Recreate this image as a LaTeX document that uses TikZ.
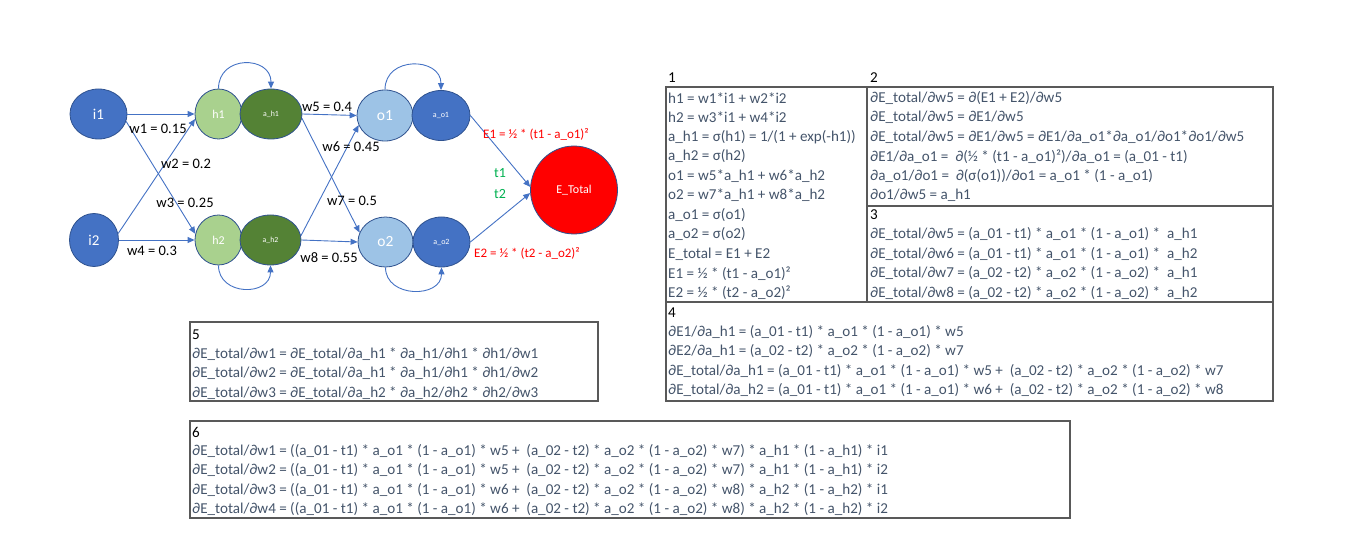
\documentclass[tikz,border=0pt]{standalone}
\usepackage{fontspec}
\setmainfont{Carlito}
\usetikzlibrary{shapes.geometric,arrows.meta}
\definecolor{eblue}{HTML}{4472C4}
\definecolor{nborder}{HTML}{2F528F}
\definecolor{lgreen}{HTML}{A9D18E}
\definecolor{dgreen}{HTML}{548235}
\definecolor{lblue}{HTML}{9DC3E6}
\definecolor{tgray}{HTML}{44546A}
\definecolor{bgray}{HTML}{595959}
\definecolor{tgreen}{HTML}{00B050}
\begin{document}
\begin{tikzpicture}[x=1pt,y=-1pt,
 neuron/.style={ellipse, draw=nborder, line width=0.8pt, inner sep=0pt, text=white},
 edge/.style={draw=eblue, line width=0.9pt, -{Triangle[length=7pt,width=6pt]}},
 wl/.style={font=\fontsize{14.5}{16}\selectfont, inner sep=0pt},
 redl/.style={font=\fontsize{13}{15}\selectfont, inner sep=0pt, text=red},
 grl/.style={font=\fontsize{14}{16}\selectfont, inner sep=0pt, text=tgreen},
 tbl/.style={font=\fontsize{15.1}{17}\selectfont, text=tgray, anchor=west, inner sep=0pt},
 hdr/.style={tbl, text=black},
 frame/.style={draw=bgray, line width=1.1pt}]
\useasboundingbox (0,0) rectangle (1362,553);

% ---------- network ----------
\node[neuron, fill=eblue, minimum width=57pt, minimum height=50pt, font=\fontsize{15}{16}\selectfont] (i1) at (98.5,114) {i1};
\node[neuron, fill=eblue, minimum width=49pt, minimum height=53pt, font=\fontsize{15}{16}\selectfont] (i2) at (94,240) {i2};
\node[neuron, fill=lgreen, minimum width=47pt, minimum height=50pt, font=\fontsize{12}{14}\selectfont] (h1) at (218.5,114) {h1};
\node[neuron, fill=dgreen, minimum width=62pt, minimum height=50pt, font=\fontsize{7.8}{9}\selectfont] (ah1) at (271,114) {a\_h1};
\node[neuron, fill=lgreen, minimum width=47pt, minimum height=50pt, font=\fontsize{12}{14}\selectfont] (h2) at (218.5,240) {h2};
\node[neuron, fill=dgreen, minimum width=61pt, minimum height=50pt, font=\fontsize{7.8}{9}\selectfont] (ah2) at (270.5,240) {a\_h2};
\node[neuron, fill=lblue, minimum width=56pt, minimum height=51pt, font=\fontsize{15.5}{17}\selectfont] (o1) at (385,115.5) {o1};
\node[neuron, fill=eblue, minimum width=58pt, minimum height=50pt, font=\fontsize{8}{9}\selectfont] (ao1) at (441,115.5) {a\_o1};
\node[neuron, fill=lblue, minimum width=55pt, minimum height=50pt, font=\fontsize{15.5}{17}\selectfont] (o2) at (385.5,242) {o2};
\node[neuron, fill=eblue, minimum width=57pt, minimum height=50pt, font=\fontsize{8}{9}\selectfont] (ao2) at (441.5,242) {a\_o2};
\node[neuron, fill=red, minimum width=87pt, minimum height=88pt, font=\fontsize{12}{14}\selectfont] (E) at (574,190) {E\_Total};

\draw[edge] (i1.east) -- (h1.west);
\draw[edge] (i1.-15) -- (h2.165);
\draw[edge] (i2.15) -- (h1.192);
\draw[edge] (i2.east) -- (h2.west);
\draw[edge] (ah1.east) -- (o1.west);
\draw[edge] (ah1.-8) -- (o2.160);
\draw[edge] (ah2.8) -- (o1.200);
\draw[edge] (ah2.east) -- (o2.west);
\draw[edge] (ao1.east) -- (E.176);
\draw[edge] (ao2.east) -- (E.184);

\draw[edge] (h1.north) .. controls +(0,-34) and +(0,-33) .. (ah1.north);
\draw[edge] (h2.south) .. controls +(0,31) and +(0,31) .. (ah2.south);
\draw[edge] (o1.north) .. controls +(0,-34) and +(0,-33) .. (ao1.north);
\draw[edge] (o2.south) .. controls +(0,31) and +(0,31) .. (ao2.south);

\node[wl] (lw1) at (158,129) {w1 = 0.15};
\node[wl] (lw2) at (186,164) {w2 = 0.2};
\node[wl] (lw3) at (185,203) {w3 = 0.25};
\node[wl] (lw4) at (152,251) {w4 = 0.3};
\node[wl] (lw5) at (327,107) {w5 = 0.4};
\node[wl] (lw6) at (351,147) {w6 = 0.45};
\node[wl] (lw7) at (352,201) {w7 = 0.5};
\node[wl] (lw8) at (329,258) {w8 = 0.55};
\node[redl] (le1) at (536,134) {E1 = ½ * (t1 - a\_o1)²};
\node[redl] (le2) at (527,253) {E2 = ½ * (t2 - a\_o2)²};
\node[grl] (lt1) at (500,173) {t1};
\node[grl] (lt2) at (500,194) {t2};

% ---------- tables ----------
\draw[frame] (666,87) rectangle (1273,302);
\draw[frame] (867,87) -- (867,302);
\draw[frame] (867,206) -- (1273,206);
\draw[frame] (666,302) rectangle (1273,401);
\draw[frame] (190,322) rectangle (598,401);
\draw[frame] (190,421) rectangle (1070,518);

\node[hdr] (s1h) at (668,78) {1};
\node[tbl] (s1a) at (668,98) {h1 = w1*i1 + w2*i2};
\node[tbl] (s1b) at (668,117.5) {h2 = w3*i1 + w4*i2};
\node[tbl] (s1c) at (668,137) {a\_h1 = σ(h1) = 1/(1 + exp(-h1))};
\node[tbl] (s1d) at (668,156.5) {a\_h2 = σ(h2)};
\node[tbl] (s1e) at (668,176) {o1 = w5*a\_h1 + w6*a\_h2};
\node[tbl] (s1f) at (668,195.5) {o2 = w7*a\_h1 + w8*a\_h2};
\node[tbl] (s1g) at (668,215) {a\_o1 = σ(o1)};
\node[tbl] (s1h2) at (668,234.5) {a\_o2 = σ(o2)};
\node[tbl] (s1i) at (668,254) {E\_total = E1 + E2};
\node[tbl] (s1j) at (668,273.5) {E1 = ½ * (t1 - a\_o1)²};
\node[tbl] (s1k) at (668,293) {E2 = ½ * (t2 - a\_o2)²};

\node[hdr] (s2h) at (870,78) {2};
\node[tbl] (s2a) at (870,98) {∂E\_total/∂w5 = ∂(E1 + E2)/∂w5};
\node[tbl] (s2b) at (870,117.5) {∂E\_total/∂w5 = ∂E1/∂w5};
\node[tbl] (s2c) at (870,137) {∂E\_total/∂w5 = ∂E1/∂w5 = ∂E1/∂a\_o1*∂a\_o1/∂o1*∂o1/∂w5};
\node[tbl] (s2d) at (870,156.5) {∂E1/∂a\_o1 = \ ∂(½ * (t1 - a\_o1)²)/∂a\_o1 = (a\_01 - t1)};
\node[tbl] (s2e) at (870,176) {∂a\_o1/∂o1 = \ ∂(σ(o1))/∂o1 = a\_o1 * (1 - a\_o1)};
\node[tbl] (s2f) at (870,195.5) {∂o1/∂w5 = a\_h1};

\node[hdr] (s3h) at (870,215) {3};
\node[tbl] (s3a) at (870,234.5) {∂E\_total/∂w5 = (a\_01 - t1) * a\_o1 * (1 - a\_o1) * \ a\_h1};
\node[tbl] (s3b) at (870,254) {∂E\_total/∂w6 = (a\_01 - t1) * a\_o1 * (1 - a\_o1) * \ a\_h2};
\node[tbl] (s3c) at (870,273.5) {∂E\_total/∂w7 = (a\_02 - t2) * a\_o2 * (1 - a\_o2) * \ a\_h1};
\node[tbl] (s3d) at (870,293) {∂E\_total/∂w8 = (a\_02 - t2) * a\_o2 * (1 - a\_o2) * \ a\_h2};

\node[hdr] (s4h) at (668,312.5) {4};
\node[tbl] (s4a) at (668,332) {∂E1/∂a\_h1 = (a\_01 - t1) * a\_o1 * (1 - a\_o1) * w5};
\node[tbl] (s4b) at (668,351.5) {∂E2/∂a\_h1 = (a\_02 - t2) * a\_o2 * (1 - a\_o2) * w7};
\node[tbl] (s4c) at (668,371) {∂E\_total/∂a\_h1 = (a\_01 - t1) * a\_o1 * (1 - a\_o1) * w5 + \ (a\_02 - t2) * a\_o2 * (1 - a\_o2) * w7};
\node[tbl] (s4d) at (668,390.5) {∂E\_total/∂a\_h2 = (a\_01 - t1) * a\_o1 * (1 - a\_o1) * w6 + \ (a\_02 - t2) * a\_o2 * (1 - a\_o2) * w8};

\node[hdr] (s5h) at (192,334.5) {5};
\node[tbl] (s5a) at (192,354) {∂E\_total/∂w1 = ∂E\_total/∂a\_h1 * ∂a\_h1/∂h1 * ∂h1/∂w1};
\node[tbl] (s5b) at (192,373.5) {∂E\_total/∂w2 = ∂E\_total/∂a\_h1 * ∂a\_h1/∂h1 * ∂h1/∂w2};
\node[tbl] (s5c) at (192,393) {∂E\_total/∂w3 = ∂E\_total/∂a\_h2 * ∂a\_h2/∂h2 * ∂h2/∂w3};

\node[hdr] (s6h) at (192,432) {6};
\node[tbl] (s6a) at (192,451) {∂E\_total/∂w1 = ((a\_01 - t1) * a\_o1 * (1 - a\_o1) * w5 + \ (a\_02 - t2) * a\_o2 * (1 - a\_o2) * w7) * a\_h1 * (1 - a\_h1) * i1};
\node[tbl] (s6b) at (192,470.5) {∂E\_total/∂w2 = ((a\_01 - t1) * a\_o1 * (1 - a\_o1) * w5 + \ (a\_02 - t2) * a\_o2 * (1 - a\_o2) * w7) * a\_h1 * (1 - a\_h1) * i2};
\node[tbl] (s6c) at (192,490) {∂E\_total/∂w3 = ((a\_01 - t1) * a\_o1 * (1 - a\_o1) * w6 + \ (a\_02 - t2) * a\_o2 * (1 - a\_o2) * w8) * a\_h2 * (1 - a\_h2) * i1};
\node[tbl] (s6d) at (192,509.5) {∂E\_total/∂w4 = ((a\_01 - t1) * a\_o1 * (1 - a\_o1) * w6 + \ (a\_02 - t2) * a\_o2 * (1 - a\_o2) * w8) * a\_h2 * (1 - a\_h2) * i2};
\end{tikzpicture}
\end{document}
